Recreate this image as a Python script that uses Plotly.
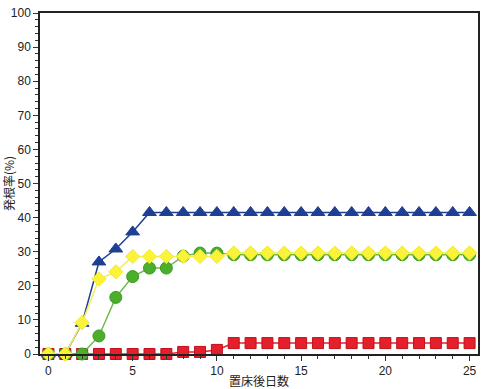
import plotly.graph_objects as go

# Days after placement (置床後日数)
days = list(range(0, 26))

# Rooting rate (%) per treatment
blue_vals = [0, 0, 9.0, 27.0, 30.8, 35.8] + [41.5] * 20
yellow_vals = [0, 0, 9.2, 22.0, 24.1, 28.6, 28.6, 28.6, 28.6, 28.6, 28.6] + [29.6] * 15
green_vals = [0, 0, 0, 5.3, 16.6, 22.7, 25.2, 25.2, 28.7, 29.6, 29.6] + [29.1] * 15
red_vals = [0, 0, 0, 0, 0, 0, 0, 0, 0.6, 0.6, 1.2] + [3.2] * 15

x_ticks = [0, 5, 10, 15, 20, 25]
y_ticks = [0, 10, 20, 30, 40, 50, 60, 70, 80, 90, 100]

FONT = "Liberation Sans"

fig = go.Figure()

series = [
    (red_vals, "square", "#e3202b", "#c0101c", "#e3202b", 11),
    (blue_vals, "triangle-up", "#1f3f93", "#1f3f93", "#1f3f93", 12),
    (green_vals, "circle", "#4caf2c", "#3a9a22", "#6dbb4a", 12),
    (yellow_vals, "diamond", "#fbf23a", "#f5ea2a", "#f4ee5a", 11),
]

for vals, symbol, fill, edge, line_color, size in series:
    fig.add_trace(go.Scatter(
        x=days, y=vals,
        mode="lines+markers",
        line=dict(color=line_color, width=1.5),
        marker=dict(symbol=symbol, size=size, color=fill,
                    line=dict(color=edge, width=1)),
        cliponaxis=False,
        showlegend=False,
    ))

fig.update_layout(
    width=484, height=389,
    margin=dict(l=40, r=6, t=13, b=35),
    paper_bgcolor="white",
    plot_bgcolor="white",
    font=dict(family=FONT, size=12, color="#222222"),
    xaxis=dict(
        range=[-0.5, 25.5],
        tickvals=x_ticks,
        ticks="outside", ticklen=5, tickwidth=1, tickcolor="#333333",
        minor=dict(dtick=1, tick0=0, ticks="outside", ticklen=3,
                   tickcolor="#333333"),
        showline=True, linecolor="#222222", linewidth=1.5, mirror=True,
        showgrid=False, zeroline=False, automargin=False,
        title=dict(text="置床後日数",
                   font=dict(family="Noto Sans CJK JP", size=12),
                   standoff=0),
    ),
    yaxis=dict(
        range=[0, 100],
        tickvals=y_ticks,
        ticks="outside", ticklen=5, tickwidth=1, tickcolor="#333333",
        minor=dict(dtick=2, tick0=0, ticks="outside", ticklen=3,
                   tickcolor="#333333"),
        showline=True, linecolor="#222222", linewidth=1.5, mirror=True,
        showgrid=False, zeroline=False, automargin=False,
        title=dict(text="発根率(%)",
                   font=dict(family="Noto Sans CJK JP", size=12),
                   standoff=2),
    ),
)

fig.write_html("out.html")
